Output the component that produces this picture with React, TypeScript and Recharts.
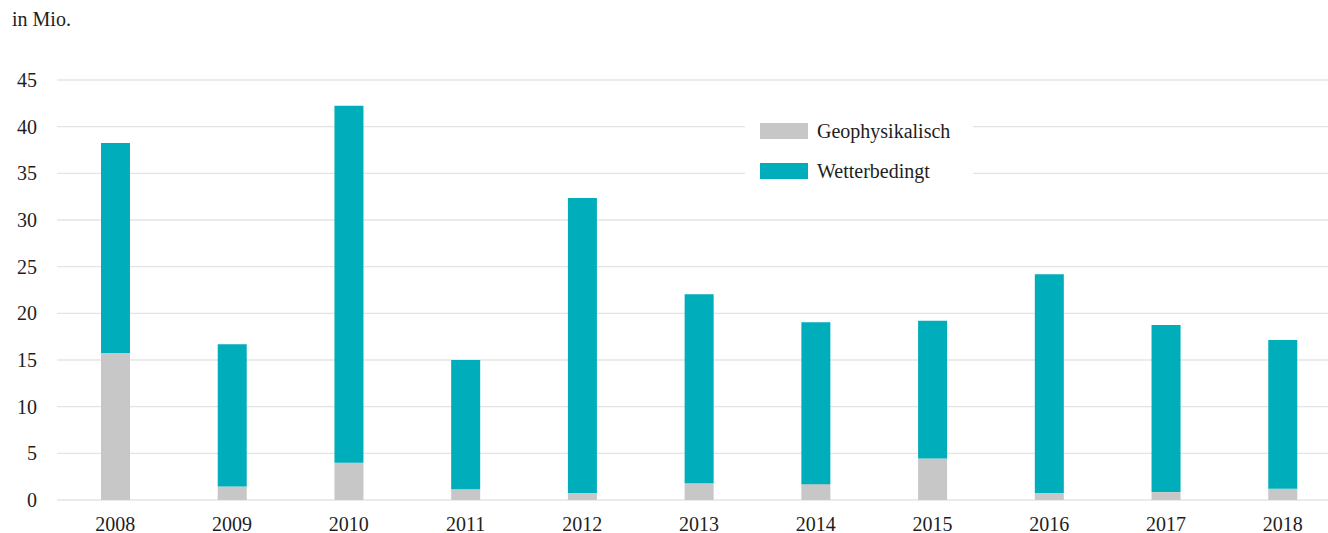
import { BarChart, Bar, XAxis, YAxis, CartesianGrid, Legend } from 'recharts'

const YEARS = ['2008', '2009', '2010', '2011', '2012', '2013', '2014', '2015', '2016', '2017', '2018']
const GEO = [15.75, 1.45, 4.0, 1.15, 0.75, 1.8, 1.7, 4.45, 0.75, 0.85, 1.2]
const WETTER = [22.5, 15.25, 38.25, 13.85, 31.6, 20.25, 17.35, 14.75, 23.45, 17.9, 15.95]
const Y_TICKS = [0, 5, 10, 15, 20, 25, 30, 35, 40, 45]

const SERIES = [
  { key: 'geo', label: 'Geophysikalisch', color: '#c6c7c6' },
  { key: 'wetter', label: 'Wetterbedingt', color: '#00adba' },
]

const FONT = '"Liberation Serif", "DejaVu Serif", serif'
const TEXT = '#1e1e1e'

const data = YEARS.map((year, i) => ({ year, geo: GEO[i], wetter: WETTER[i] }))

function LegendBox() {
  return (
    <div style={{ background: '#fff', padding: '10px 0 0 15px', boxSizing: 'border-box', height: '100%' }}>
      {SERIES.map(s => (
        <div key={s.key} style={{ display: 'flex', alignItems: 'center', height: 16, marginBottom: 24 }}>
          <span style={{ width: 48, height: 16, background: s.color, display: 'inline-block' }} />
          <span style={{ marginLeft: 9, fontFamily: FONT, fontSize: 20, color: TEXT, lineHeight: '16px' }}>
            {s.label}
          </span>
        </div>
      ))}
    </div>
  )
}

export default function App() {
  return (
    <div style={{ position: 'relative', width: 1328, height: 533, overflow: 'hidden', background: '#fff' }}>
      <style>{'body{margin:0}'}</style>
      <div
        style={{
          position: 'absolute', left: 12, top: 8, fontFamily: FONT, fontSize: 20, color: TEXT,
          lineHeight: 'normal', zIndex: 2,
        }}
      >
        in Mio.
      </div>
      <BarChart width={1341} height={533} data={data} margin={{ top: 80, right: 0, bottom: 0, left: 0 }}>
        <CartesianGrid vertical={false} stroke="#e4e4e4" strokeWidth={1.3} />
        <XAxis
          dataKey="year"
          height={33}
          axisLine={false}
          tickLine={false}
          tickSize={0}
          tickMargin={17}
          tick={{ fill: TEXT, fontSize: 20, fontFamily: FONT }}
          interval={0}
        />
        <YAxis
          width={57}
          domain={[0, 45]}
          ticks={Y_TICKS}
          axisLine={false}
          tickLine={false}
          tickSize={0}
          tickMargin={20}
          tick={{ fill: TEXT, fontSize: 20, fontFamily: FONT }}
        />
        <Legend
          layout="vertical"
          align="center"
          verticalAlign="middle"
          content={<LegendBox />}
          wrapperStyle={{ left: 745, top: 113, width: 228, height: 72 }}
        />
        {SERIES.map(s => (
          <Bar
            key={s.key}
            dataKey={s.key}
            name={s.label}
            stackId="a"
            fill={s.color}
            barSize={29}
            isAnimationActive={false}
          />
        ))}
      </BarChart>
    </div>
  )
}
